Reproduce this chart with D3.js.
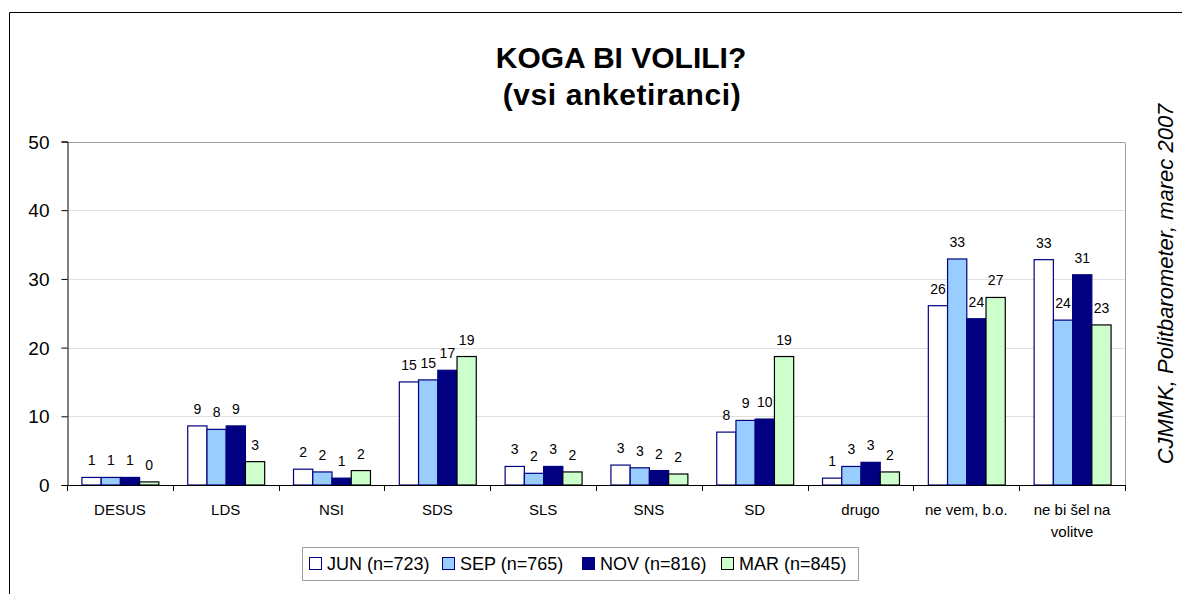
<!DOCTYPE html>
<html>
<head>
<meta charset="utf-8">
<script src="https://cdn.jsdelivr.net/npm/d3@7"></script>
<style>
  body { margin: 0; background: #fff; }
  svg { font-family: "Liberation Sans", Arial, sans-serif; }
</style>
</head>
<body>
<svg width="1182" height="594"></svg>
<script>
// categories and series
var categories = ["DESUS", "LDS", "NSI", "SDS", "SLS", "SNS", "SD", "drugo", "ne vem, b.o.", "ne bi šel na volitve"];
var seriesNames = ["JUN (n=723)", "SEP (n=765)", "NOV (n=816)", "MAR (n=845)"];
var jun = [1.1, 8.6, 2.3, 15.0, 2.7, 2.9, 7.7, 1.0, 26.1, 32.8];
var sep = [1.1, 8.1, 1.9, 15.3, 1.7, 2.5, 9.4, 2.7, 32.9, 24.0];
var nov = [1.1, 8.6, 1.0, 16.7, 2.7, 2.1, 9.6, 3.3, 24.2, 30.6];
var mar = [0.45, 3.4, 2.1, 18.7, 1.9, 1.6, 18.7, 1.9, 27.3, 23.3];
var yTicks = [0, 10, 20, 30, 40, 50];

var fills = ["#ffffff", "#99ccff", "#000080", "#ccffcc"];
var strokes = ["#000080", "#000080", "#000080", "#000000"];

var svg = d3.select("svg");
var series = [jun, sep, nov, mar];

var margin = {left: 67, right: 1125, top: 141.5, bottom: 485};

// outer frame (cut off at right/bottom like the source)
svg.append("path")
  .attr("d", "M9.5,594 L9.5,12.5 L1182,12.5")
  .attr("fill", "none").attr("stroke", "#000").attr("stroke-width", 1);

// title
svg.append("text").attr("x", 621).attr("y", 68)
  .attr("text-anchor", "middle").attr("font-size", 30).attr("font-weight", "bold")
  .text("KOGA BI VOLILI?");
svg.append("text").attr("x", 622).attr("y", 105)
  .attr("text-anchor", "middle").attr("font-size", 30).attr("font-weight", "bold")
  .attr("letter-spacing", 0.6)
  .text("(vsi anketiranci)");

var x0 = d3.scaleBand().domain(categories).range([margin.left, margin.right]);
var x1 = d3.scaleBand().domain(d3.range(4)).range([0, x0.bandwidth()]).paddingOuter(0.75);
var y = d3.scaleLinear().domain([0, 50]).range([margin.bottom, margin.top]);

// gridlines
svg.append("g").selectAll("line").data(yTicks.filter(function(d) { return d > 0; }))
  .enter().append("line")
  .attr("x1", margin.left).attr("x2", margin.right)
  .attr("y1", function(d) { return Math.round(y(d)) + 0.5; })
  .attr("y2", function(d) { return Math.round(y(d)) + 0.5; })
  .attr("stroke", function(d) { return d === 50 ? "#a0a0a0" : "#e0e0e0"; });

// plot right border
svg.append("line")
  .attr("x1", margin.right + 0.5).attr("x2", margin.right + 0.5)
  .attr("y1", Math.round(y(50)) + 0.5).attr("y2", margin.bottom)
  .attr("stroke", "#a0a0a0");

// bars
var groups = svg.append("g").selectAll("g").data(categories).enter().append("g")
  .attr("transform", function(d) { return "translate(" + x0(d) + ",0)"; });

groups.each(function(cat, ci) {
  var g = d3.select(this);
  series.forEach(function(s, si) {
    var v = s[ci];
    g.append("rect")
      .attr("x", x1(si) + 0.5)
      .attr("y", y(v))
      .attr("width", x1.bandwidth())
      .attr("height", y(0) - y(v))
      .attr("fill", fills[si])
      .attr("stroke", strokes[si])
      .attr("stroke-width", 1.2);
    g.append("text")
      .attr("x", x1(si) + x1.bandwidth() / 2 + 0.5)
      .attr("y", y(v) - 12)
      .attr("text-anchor", "middle")
      .attr("font-size", 14)
      .attr("fill", "#000")
      .text(d3.format(".0f")(v));
  });
});

// y axis
var yAxis = d3.axisLeft(y).tickValues(yTicks).tickSize(6).tickPadding(12);
svg.append("g").attr("transform", "translate(" + (margin.left + 0.5) + ",0)")
  .call(yAxis)
  .call(function(g) {
    g.select(".domain").attr("stroke", "#000");
    g.selectAll("text").attr("font-size", 19).attr("font-family", "Liberation Sans, Arial, sans-serif").attr("dy", "0.35em");
  });

// x axis
var bounds = categories.map(function(c) { return x0(c); }).concat([margin.right]);
var xg = svg.append("g");
xg.append("line").attr("x1", margin.left).attr("x2", margin.right + 1)
  .attr("y1", margin.bottom + 0.5).attr("y2", margin.bottom + 0.5).attr("stroke", "#000");
xg.selectAll("line.tk").data(bounds).enter().append("line").attr("class", "tk")
  .attr("x1", function(d) { return Math.round(d) + 0.5; })
  .attr("x2", function(d) { return Math.round(d) + 0.5; })
  .attr("y1", margin.bottom).attr("y2", margin.bottom + 6)
  .attr("stroke", "#000");

var catLabels = {"ne bi šel na volitve": ["ne bi šel na", "volitve"]};
xg.selectAll("text.cat").data(categories).enter().append("text").attr("class", "cat")
  .attr("x", function(d) { return x0(d) + x0.bandwidth() / 2; })
  .attr("y", 515)
  .attr("text-anchor", "middle")
  .attr("font-size", 15)
  .each(function(d) {
    var lines = catLabels[d] || [d];
    var t = d3.select(this);
    lines.forEach(function(l, i) {
      t.append("tspan").attr("x", x0(d) + x0.bandwidth() / 2).attr("dy", i === 0 ? 0 : 22).text(l);
    });
  });

// legend
var legend = svg.append("g");
legend.append("rect").attr("x", 302.5).attr("y", 547.5).attr("width", 556).attr("height", 33)
  .attr("fill", "#fff").attr("stroke", "#a0a0a0");
var legX = [309, 442, 582, 721];
seriesNames.forEach(function(n, i) {
  legend.append("rect").attr("x", legX[i] + 0.5).attr("y", 557.5).attr("width", 12).attr("height", 12)
    .attr("fill", fills[i]).attr("stroke", strokes[i]);
  legend.append("text").attr("x", legX[i] + 18).attr("y", 570)
    .attr("font-size", 18).text(n);
});

// source note
svg.append("text")
  .attr("transform", "translate(1173,284) rotate(-90)")
  .attr("text-anchor", "middle")
  .attr("font-size", 22)
  .attr("font-style", "italic")
  .text("CJMMK, Politbarometer, marec 2007");
</script>
</body>
</html>
